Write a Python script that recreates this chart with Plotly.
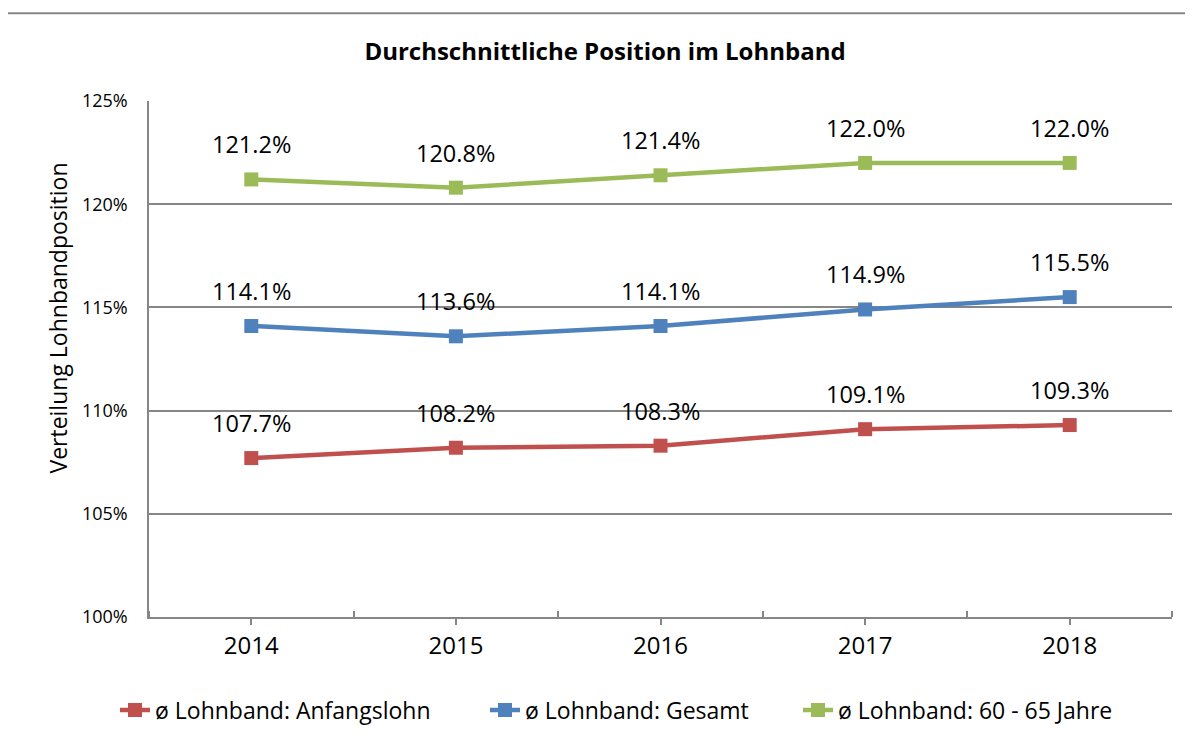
import plotly.graph_objects as go

years = ["2014", "2015", "2016", "2017", "2018"]
anfangslohn = [107.7, 108.2, 108.3, 109.1, 109.3]
gesamt = [114.1, 113.6, 114.1, 114.9, 115.5]
jahre_60_65 = [121.2, 120.8, 121.4, 122.0, 122.0]

series_names = ["ø Lohnband: Anfangslohn", "ø Lohnband: Gesamt", "ø Lohnband: 60 - 65 Jahre"]
series_values = [anfangslohn, gesamt, jahre_60_65]
series_colors = ["#C0504D", "#4F81BD", "#9BBB59"]

FONT = "Open Sans"
xpos = list(range(len(years)))

W, H = 1185, 734  # page has an 8px body margin
legend_ids = ["legend", "legend2", "legend3"]
legend_left_px = [115, 485, 798]  # page x of each legend entry

fig = go.Figure()
for name, vals, col, lid in zip(series_names, series_values, series_colors, legend_ids):
    fig.add_trace(go.Scatter(
        x=xpos, y=vals, name=name, mode="lines+markers", legend=lid, showlegend=True,
        line=dict(color=col, width=4.5),
        marker=dict(symbol="square", size=14, color=col),
    ))
    for xi, v in zip(xpos, vals):
        fig.add_annotation(x=xi, y=v, text=f"{v:.1f}%", showarrow=False,
                           yshift=35, font=dict(family=FONT, size=23.5, color="black"))

# y-axis title placed like the original (above plot centre)
fig.add_annotation(text="Verteilung Lohnbandposition", xref="paper", yref="paper",
                   x=(58 - 149) / 1023, y=(618 - 319) / 517, textangle=-90,
                   showarrow=False, xanchor="center", yanchor="middle",
                   font=dict(family=FONT, size=23, color="black"))

grey = "#868686"
legends = {}
for lid, px in zip(legend_ids, legend_left_px):
    legends[lid] = dict(orientation="h", x=(px - 149) / 1023, xanchor="left",
                        y=-0.178, yanchor="middle",
                        font=dict(family=FONT, size=23, color="black"),
                        bgcolor="rgba(0,0,0,0)")

fig.update_layout(
    width=W, height=H, showlegend=True,
    paper_bgcolor="white", plot_bgcolor="white",
    margin=dict(l=141, r=21, t=93, b=124),
    font=dict(family=FONT, color="black"),
    title=dict(text="<b>Durchschnittliche Position im Lohnband</b>",
               x=597 / W, xanchor="center", y=1 - 44 / H, yanchor="middle",
               font=dict(family=FONT, size=24, color="black")),
    xaxis=dict(range=[-0.5, 4.5], tickmode="array", tickvals=xpos, ticktext=years,
               showgrid=False, zeroline=False, showline=True, linecolor=grey, linewidth=1.5,
               ticks="outside", ticklen=6, tickcolor=grey, tickwidth=1.5,
               tickfont=dict(family=FONT, size=24, color="black"),
               minor=dict(ticks="inside", tick0=-0.5, dtick=1, ticklen=6,
                          tickcolor=grey, tickwidth=1.5, showgrid=False)),
    yaxis=dict(range=[100, 125], dtick=5, ticksuffix="%",
               showgrid=True, gridcolor=grey, gridwidth=1.5,
               zeroline=False, showline=True, linecolor=grey, linewidth=1.5,
               ticks="", ticklabelstandoff=16,
               tickfont=dict(family=FONT, size=18, color="black")),
    shapes=[dict(type="rect", xref="paper", yref="paper",
                 x0=(7 - 149) / 1023, x1=1.2, y0=-0.5, y1=(618 - 13) / 517,
                 line=dict(color=grey, width=2), fillcolor="rgba(0,0,0,0)", layer="below")],
    **legends,
)

fig.write_html("out.html")
